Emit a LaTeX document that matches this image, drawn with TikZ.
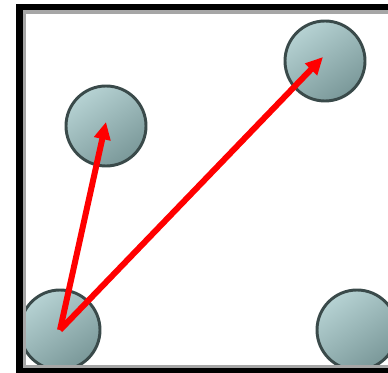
\documentclass[tikz,border=0pt]{standalone}
\usetikzlibrary{arrows.meta,calc}
\definecolor{ballhi}{HTML}{B6D2D3}
\definecolor{balllo}{HTML}{7A9899}
\definecolor{ballrim}{HTML}{3A4A4A}
\definecolor{vecred}{HTML}{FF0000}

\begin{document}
\begin{tikzpicture}[
  x=0.75pt, y=-0.75pt,
  ball/.style={circle, draw=ballrim, line width=2.2pt, minimum size=60pt,
               inner sep=0pt, top color=ballhi, bottom color=balllo,
               shading angle=35},
  vec/.style={-{Triangle[length=13pt, width=12pt]}, draw=vecred,
              line width=4.5pt},
  frameout/.style={draw=black, line width=4.8pt},
  framein/.style={draw=black!35, line width=2.4pt},
]
\clip (0,0) rectangle (388,373);
\fill[white] (0,0) rectangle (388,373);

% the four balls
\node[ball] (upleft)  at (106,126) {};
\node[ball] (upright) at (325,61)  {};
\node[ball] (lowleft) at (60,330)  {};
\node[ball] (lowright) at (357,330) {};

% box walls
\draw[framein]  (420,12) -- (24.5,12) -- (24.5,366.5) -- (420,366.5);
\draw[frameout] (420,7) -- (19.5,7) -- (19.5,371) -- (420,371);

% displacement vectors
\coordinate (tipA) at ($(upleft.center)+(0,-4)$);
\coordinate (tipB) at ($(upright.center)+(-2,-4)$);
\draw[vec] (lowleft.center) -- (tipA);
\draw[vec] (lowleft.center) -- (tipB);

\end{tikzpicture}
\end{document}
